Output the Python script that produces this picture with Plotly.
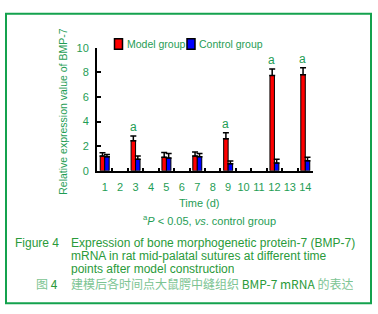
import plotly.graph_objects as go

# ---- data ----
all_days = [str(i) for i in range(1, 15)]
days = ["1", "3", "5", "7", "9", "12", "14"]
model = [1.20, 2.44, 1.10, 1.20, 2.60, 7.74, 7.81]
model_err = [0.27, 0.39, 0.38, 0.33, 0.49, 0.52, 0.55]
control = [1.14, 0.94, 1.04, 1.15, 0.58, 0.63, 0.81]
control_err = [0.19, 0.26, 0.36, 0.25, 0.21, 0.31, 0.29]
significant = [False, True, False, False, True, True, True]
y_ticks = [0, 2, 4, 6, 8, 10]

W, H = 378, 314
GREEN = "#1f9d55"
CAP = "#2a9a3a"
LIGHT = "#7cc493"
FONT = "Liberation Sans, Arial, sans-serif"
CJK = "Noto Sans CJK SC, Liberation Sans, sans-serif"


def px(x):
    return x / W


def py(y):
    return 1 - y / H


fig = go.Figure()
fig.add_trace(go.Bar(
    x=days, y=model, name="Model group",
    marker=dict(color="#ff0000", line=dict(color="black", width=1)),
    error_y=dict(type="data", array=model_err, arrayminus=[0] * len(days),
                 symmetric=False, color="black", thickness=1.5, width=3),
))
fig.add_trace(go.Bar(
    x=days, y=control, name="Control group",
    marker=dict(color="#0000ff", line=dict(color="black", width=1)),
    error_y=dict(type="data", array=control_err, arrayminus=[0] * len(days),
                 symmetric=False, color="black", thickness=1.5, width=3),
))

annotations = []
for d, v, e, s in zip(days, model, model_err, significant):
    if s:
        annotations.append(dict(x=all_days.index(d), y=v + e, xref="x", yref="y", text="a",
                                showarrow=False, yanchor="bottom", yshift=0, xshift=-2.5,
                                font=dict(family=FONT, size=12, color=GREEN)))

# legend (drawn manually to match the compact layout of the reference)
shapes = [
    dict(type="rect", xref="paper", yref="paper", x0=px(6), x1=px(371), y0=py(309), y1=py(8),
         line=dict(color="#14a24e", width=2), fillcolor="rgba(0,0,0,0)"),
    dict(type="rect", xref="paper", yref="paper", x0=px(114.5), x1=px(122.5), y0=py(45), y1=py(34),
         line=dict(color="black", width=1.5), fillcolor="#ff0000"),
    dict(type="rect", xref="paper", yref="paper", x0=px(187), x1=px(195), y0=py(45), y1=py(34),
         line=dict(color="black", width=1.5), fillcolor="#0000ff"),
]
annotations += [
    dict(x=px(125), y=py(39.5), xref="paper", yref="paper", text="Model group", showarrow=False,
         xanchor="left", yanchor="middle", font=dict(family=FONT, size=10.5, color=GREEN)),
    dict(x=px(197.5), y=py(39.5), xref="paper", yref="paper", text="Control group", showarrow=False,
         xanchor="left", yanchor="middle", font=dict(family=FONT, size=10.5, color=GREEN)),
    dict(x=px(63), y=py(110), xref="paper", yref="paper", text="Relative expression value of BMP-7",
         showarrow=False, textangle=-90, xanchor="center", yanchor="middle",
         font=dict(family=FONT, size=10.5, color=GREEN)),
    dict(x=px(199), y=py(205), xref="paper", yref="paper", text="Time (d)", showarrow=False,
         xanchor="center", yanchor="middle", font=dict(family=FONT, size=11, color=GREEN)),
    dict(x=px(141), y=py(222), xref="paper", yref="paper",
         text="<sup>a</sup><i>P</i> < 0.05, <i>vs</i>. control group", showarrow=False,
         xanchor="left", yanchor="middle", font=dict(family=FONT, size=11, color=GREEN)),
    dict(x=px(13), y=py(246), xref="paper", yref="paper", text="Figure 4", showarrow=False,
         xanchor="left", yanchor="middle", font=dict(family=FONT, size=12, color=CAP)),
    dict(x=px(69), y=py(246), xref="paper", yref="paper",
         text="Expression of bone morphogenetic protein-7 (BMP-7)", showarrow=False,
         xanchor="left", yanchor="middle", font=dict(family=FONT, size=12, color=CAP)),
    dict(x=px(69), y=py(259.5), xref="paper", yref="paper",
         text="mRNA in rat mid-palatal sutures at different time", showarrow=False,
         xanchor="left", yanchor="middle", font=dict(family=FONT, size=12, color=CAP)),
    dict(x=px(69), y=py(273), xref="paper", yref="paper", height=13,
         text="points after model construction", showarrow=False,
         xanchor="left", yanchor="middle", font=dict(family=FONT, size=12, color=CAP)),
    dict(x=px(34), y=py(288), xref="paper", yref="paper", height=14,
         text=f"<span style='color:{LIGHT}'>图</span> 4", showarrow=False,
         xanchor="left", yanchor="middle", font=dict(family=CJK, size=12, color=CAP)),
    dict(x=px(69), y=py(288), xref="paper", yref="paper", height=14,
         text=f"<span style='color:{LIGHT}'>建模后各时间点大鼠腭中缝组织</span> BMP-7 mRNA <span style='color:{LIGHT}'>的表达</span>",
         showarrow=False, xanchor="left", yanchor="middle",
         font=dict(family=CJK, size=12, color=CAP)),
]

fig.update_layout(
    width=W, height=H,
    margin=dict(l=0, r=0, t=0, b=0),
    paper_bgcolor="white", plot_bgcolor="white",
    showlegend=False,
    barmode="group", bargap=0.42, bargroupgap=0,
    shapes=shapes, annotations=annotations,
    xaxis=dict(
        domain=[px(97), px(313)],
        type="category", categoryorder="array", categoryarray=all_days,
        tickvals=all_days, ticktext=all_days, range=[-0.5, 13.5], tickangle=0,
        tickson="boundaries", ticks="inside", ticklen=3, tickwidth=2, tickcolor="black",
        showline=True, linecolor="black", linewidth=2, showgrid=False, zeroline=False,
        tickfont=dict(family=FONT, size=11, color=GREEN), ticklabelstandoff=5,
    ),
    yaxis=dict(
        domain=[py(171.4), py(43.3)], range=[0, 10], tickvals=y_ticks,
        ticks="inside", ticklen=4, tickwidth=2, tickcolor="black",
        showline=True, linecolor="black", linewidth=2, showgrid=False, zeroline=False,
        tickfont=dict(family=FONT, size=11, color=GREEN), ticklabelstandoff=4,
    ),
)

fig.write_html(
    "out.html",
    config={"displayModeBar": False},
    post_script="document.body.style.margin='0';document.body.style.overflow='hidden';",
)
